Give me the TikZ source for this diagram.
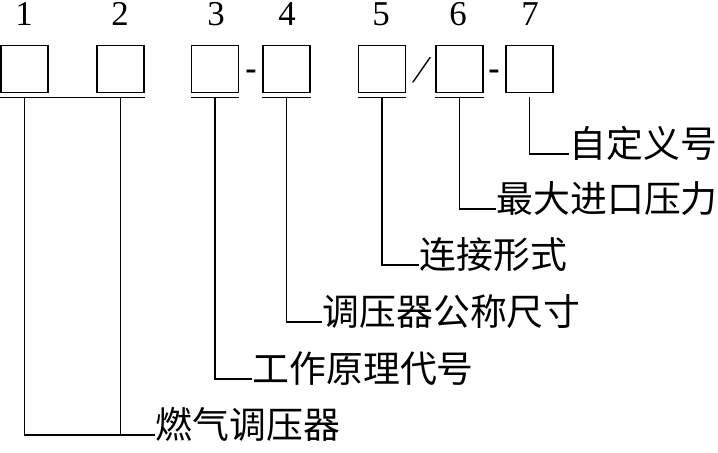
\documentclass[tikz,border=0pt]{standalone}
\usepackage{fontspec}
\setmainfont{Liberation Serif}
\newfontfamily\cjk{Noto Sans CJK SC}
\begin{document}
\begin{tikzpicture}[x=1bp,y=-1bp,line width=1.2bp,
  codebox/.style={draw,minimum size=47bp,inner sep=0pt,line width=1.3bp},
  num/.style={font=\fontsize{35}{35}\selectfont,inner sep=0pt,anchor=base,
    text height=0.68em,text depth=0pt},
  sepmark/.style={font=\bfseries\fontsize{34}{34}\selectfont,inner sep=0pt,anchor=base,
    text height=0.7em,text depth=0pt},
  lbl/.style={font=\cjk\fontsize{37}{37}\selectfont,anchor=west,inner sep=0pt,
    text height=0.88em,text depth=0.12em}]
\useasboundingbox (0,0) rectangle (718,453);
% boxes
\node[codebox] (b1) at (24.5,69) {};
\node[codebox] (b2) at (120.5,69) {};
\node[codebox] (b3) at (215,69) {};
\node[codebox] (b4) at (286.5,69) {};
\node[codebox] (b5) at (382,69) {};
\node[codebox] (b6) at (459.5,69) {};
\node[codebox] (b7) at (529.5,69) {};
% numbers
\node[num] (n1) at (24,25.5) {1};
\node[num] (n2) at (120,25.5) {2};
\node[num] (n3) at (216,25.5) {3};
\node[num] (n4) at (287,25.5) {4};
\node[num] (n5) at (381,25.5) {5};
\node[num] (n6) at (458,25.5) {6};
\node[num] (n7) at (530,25.5) {7};
% separators
\node[sepmark] (d34) at (251,79.5) {-};
\node[sepmark,font=\fontsize{38}{38}\selectfont,xslant=0.35] (s56) at (418,83) {/};
\node[sepmark] (d67) at (494,79.5) {-};
% labels
\node[lbl] (l7) at (569,154) {自定义号};
\node[lbl] (l6) at (496,209) {最大进口压力};
\node[lbl] (l5) at (419,265) {连接形式};
\node[lbl] (l4) at (322,322) {调压器公称尺寸};
\node[lbl] (l3) at (252,379) {工作原理代号};
\node[lbl] (l12) at (155,435) {燃气调压器};
% underlines
\draw ([yshift=-4bp]b1.south west) -- ([yshift=-4bp]b2.south east);
\draw ([yshift=-4bp]b3.south west) -- ([yshift=-4bp]b3.south east);
\draw ([yshift=-4bp]b4.south west) -- ([yshift=-4bp]b4.south east);
\draw ([yshift=-4bp]b5.south west) -- ([yshift=-4bp]b5.south east);
\draw ([yshift=-4bp]b6.south west) -- ([yshift=-4bp]b6.south east);
% connectors
\draw ([yshift=-4bp]b1.south) |- (l12.west);
\draw ([yshift=-4bp]b2.south) |- (l12.west);
\draw ([yshift=-4bp]b3.south) |- (l3.west);
\draw ([yshift=-4bp]b4.south) |- (l4.west);
\draw ([yshift=-4bp]b5.south) |- (l5.west);
\draw ([yshift=-4bp]b6.south) |- (l6.west);
\draw ([yshift=-4bp]b7.south) |- (l7.west);
\end{tikzpicture}
\end{document}
